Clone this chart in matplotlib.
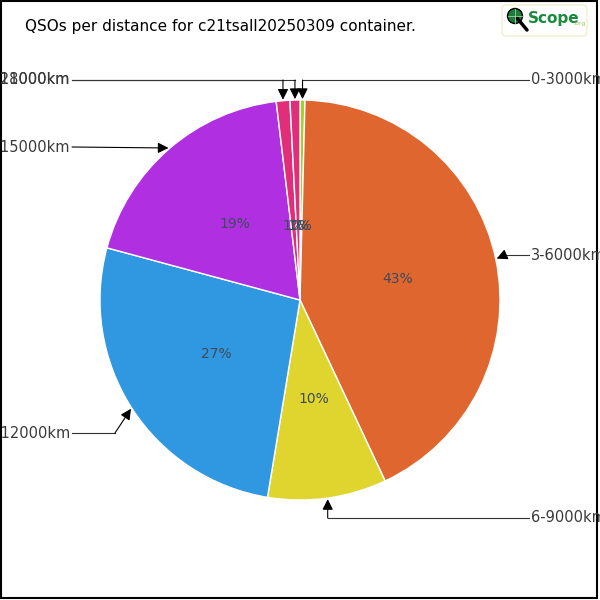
import numpy as np
import matplotlib
matplotlib.use("Agg")
import matplotlib.pyplot as plt
from matplotlib.patches import Rectangle, FancyBboxPatch, Circle

# data: share of QSOs per distance bin (percent)
bins = ["0-3000km", "3-6000km", "6-9000km", "9-12000km",
        "12-15000km", "15-18000km", "18-21000km"]
shares = [0.4, 42.6, 9.6, 26.6, 18.9, 1.1, 0.8]
colors = ["#a6cf2f", "#e0662f", "#e0d52f", "#2f98e0",
          "#b02fe0", "#e02f78", "#e02f7a"]
title = "QSOs per distance for c21tsall20250309 container."

H = 600


def px(x, y):
    # pixel coords (top-left origin) -> data coords
    return x, H - y


fig = plt.figure(figsize=(6, 6), dpi=100)
ax = fig.add_axes([0, 0, 1, 1])

wedges, texts, autotexts = ax.pie(
    shares, colors=colors, startangle=90, counterclock=False,
    center=(300, 300), radius=200, frame=True,
    autopct="%.0f%%", pctdistance=0.5,
    wedgeprops=dict(edgecolor="white", linewidth=1),
    textprops=dict(color="#3d4b5c", fontsize=10))

# small slices: labels pulled towards the centre
for w, t, s in zip(wedges, autotexts, shares):
    if s < 2:
        a = np.deg2rad((w.theta1 + w.theta2) / 2)
        t.set_position((300 + 0.37 * 200 * np.cos(a), 300 + 0.37 * 200 * np.sin(a)))

ax.set_xlim(0, 600)
ax.set_ylim(0, 600)
ax.set_aspect("equal")
ax.axis("off")

# label layout: (text x, text y, side, corner)
layout = {
    "0-3000km": (531, 80, "left", "top"),
    "3-6000km": (531, 255, "left", (505, 255)),
    "6-9000km": (531, 518, "left", "below"),
    "9-12000km": (70, 433, "right", (115, 433)),
    "12-15000km": (70, 147, "right", None),
    "15-18000km": (70, 80, "right", "top"),
    "18-21000km": (70, 80, "right", "top"),
}

for w, name in zip(wedges, bins):
    tx, ty, side, corner = layout[name]
    a = np.deg2rad((w.theta1 + w.theta2) / 2)
    tip = (300 + 201 * np.cos(a), 300 + 201 * np.sin(a))
    start = (tx - 2, H - ty) if side == "left" else (tx + 2, H - ty)
    if corner == "top" or corner == "below":
        c = (tip[0], H - ty)
    elif corner is None:
        c = start
    else:
        c = px(*corner)
    ax.plot([start[0], c[0]], [start[1], c[1]], color="#333333", lw=0.8)
    ax.annotate("", xy=tip, xytext=c,
                arrowprops=dict(arrowstyle="-|>", color="black", lw=0.8,
                                mutation_scale=16, shrinkA=0, shrinkB=0))
    ax.text(tx, H - ty, name, ha=side, va="center", fontsize=10.5,
            color="#3a3a3a")

ax.text(*px(25, 27), title, ha="left", va="center", fontsize=11, color="black")

# logo
ax.add_patch(FancyBboxPatch(px(502, 36), 85, 31, boxstyle="round,pad=0,rounding_size=4",
                            facecolor="white", edgecolor="#eef0cc", lw=1))
ax.plot([517, 527], [H - 18, H - 30], color="black", lw=2.5, solid_capstyle="round")
ax.add_patch(Circle(px(515, 16), 7.5, facecolor="#1c7a3a", edgecolor="black", lw=1))
ax.plot([508, 522], [H - 16, H - 16], color="#9fd0a8", lw=0.6)
ax.plot([515, 515], [H - 9, H - 23], color="#9fd0a8", lw=0.6)
ax.text(*px(528, 19), "Scope", ha="left", va="center", fontsize=11,
        fontweight="bold", color="#1a8a3c", family="DejaVu Sans Condensed")
ax.text(*px(573, 24), ".org", ha="left", va="center", fontsize=4.5, color="#9acd50")

# figure border
ax.add_patch(Rectangle((1, 2), 596, 597, fill=False, edgecolor="black", lw=1.5,
                       clip_on=False))

fig.savefig("out.png", dpi=100)
